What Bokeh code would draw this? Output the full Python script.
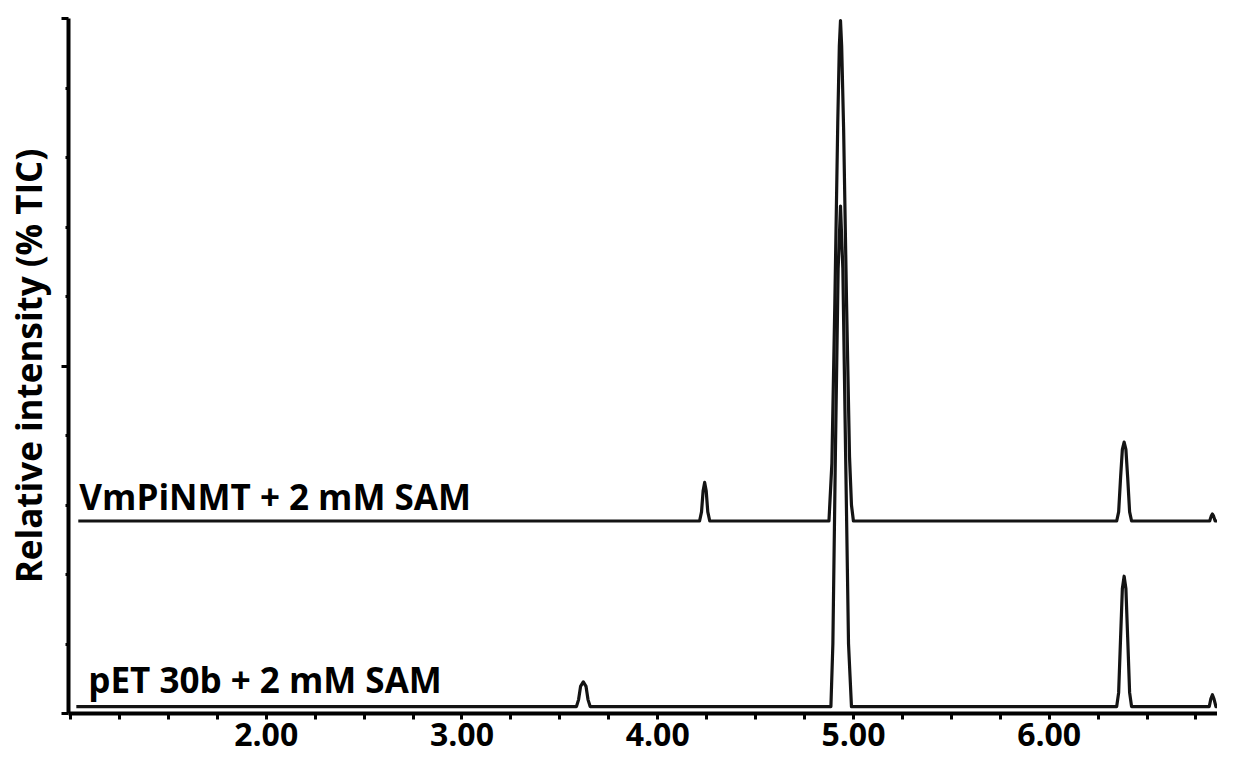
from bokeh.plotting import figure
from bokeh.models import FixedTicker, Range1d
from bokeh.core.properties import value
from bokeh.embed import file_html
from bokeh.resources import INLINE

# ---- data (time in min, % TIC) ----
vm_label = "VmPiNMT + 2 mM SAM"
vm_time = [1.04, 4.214, 4.224, 4.232, 4.24, 4.248, 4.256, 4.266,
           4.875, 4.89, 4.905, 4.92, 4.928, 4.934, 4.94, 4.95, 4.965, 4.98, 4.99, 5.0,
           6.345, 6.355, 6.365, 6.374, 6.383, 6.392, 6.401, 6.411, 6.421,
           6.82, 6.828, 6.834, 6.84, 6.848, 6.93]
vm_int = [55.4, 55.4, 58.0, 64.0, 66.5, 64.0, 58.0, 55.4,
          55.4, 72.0, 118.0, 170.0, 192.0, 199.4, 192.0, 168.0, 118.0, 74.0, 60.0, 55.4,
          55.4, 58.0, 68.0, 76.0, 78.1, 76.0, 68.0, 58.0, 55.4,
          55.4, 56.8, 57.4, 56.8, 55.4, 55.4]

pet_label = "pET 30b + 2 mM SAM"
pet_time = [1.03, 3.585, 3.596, 3.606, 3.62, 3.634, 3.644, 3.655,
            4.885, 4.895, 4.908, 4.922, 4.934, 4.946, 4.96, 4.975, 4.99,
            6.345, 6.355, 6.365, 6.374, 6.383, 6.392, 6.401, 6.411, 6.421,
            6.818, 6.826, 6.834, 6.842, 6.852, 6.93]
pet_int = [2.0, 2.0, 4.0, 7.8, 9.1, 7.8, 4.0, 2.0,
           2.0, 20.0, 75.0, 128.0, 146.0, 128.0, 75.0, 20.0, 2.0,
           2.0, 6.0, 22.0, 36.0, 39.5, 36.0, 22.0, 6.0, 2.0,
           2.0, 4.2, 5.4, 4.2, 2.0, 2.0]

x_major_ticks = [2, 3, 4, 5, 6]
x_tick_labels = ["2.00", "3.00", "4.00", "5.00", "6.00"]
x_minor_ticks = [1.0, 1.25, 1.5, 1.75, 2.25, 2.5, 2.75, 3.25, 3.5, 3.75,
                 4.25, 4.5, 4.75, 5.25, 5.5, 5.75, 6.25, 6.5, 6.75]
y_major_ticks = [0, 100, 200]
y_minor_ticks = [20, 40, 60, 80, 120, 140, 160, 180]
y_title = "Relative intensity (% TIC)"

FONT = "Open Sans"

p = figure(width=1217, height=758, output_backend="svg", toolbar_location=None,
           x_range=Range1d(0.99, 6.86), y_range=Range1d(0, 200),
           min_border_left=68, min_border_right=0, min_border_top=18,
           min_border_bottom=45)
p.outline_line_color = None
p.grid.visible = False
p.background_fill_color = "white"
p.border_fill_color = "white"

# traces
for t, v in ((vm_time, vm_int), (pet_time, pet_int)):
    p.line(x=t, y=v, line_color="#141414", line_width=3.2, line_join="round")

# trace labels (anchored at each trace's starting point)
p.text(x=[vm_time[0]], y=[vm_int[0]], text=[vm_label], text_font=value(FONT),
       text_font_style="bold", text_font_size="35px", text_color="black",
       text_baseline="alphabetic", x_offset=1, y_offset=-24)
p.text(x=[pet_time[0]], y=[pet_int[0]], text=[pet_label], text_font=value(FONT),
       text_font_style="bold", text_font_size="35px", text_color="black",
       text_baseline="alphabetic", x_offset=12, y_offset=-27)

# x axis
xa = p.xaxis[0]
xa.ticker = FixedTicker(ticks=x_major_ticks, minor_ticks=x_minor_ticks)
xa.major_label_overrides = {k: s for k, s in zip(x_major_ticks, x_tick_labels)}
xa.axis_line_width = 4
xa.axis_line_color = "black"
xa.major_tick_in = 0
xa.major_tick_out = 6
xa.minor_tick_in = 0
xa.minor_tick_out = 6
xa.major_tick_line_width = 3
xa.minor_tick_line_width = 3
xa.major_tick_line_color = "black"
xa.minor_tick_line_color = "black"
xa.major_label_standoff = 3
xa.major_label_text_font = FONT
xa.major_label_text_font_style = "bold"
xa.major_label_text_font_size = "32px"
xa.major_label_text_color = "black"

# y axis
ya = p.yaxis[0]
ya.ticker = FixedTicker(ticks=y_major_ticks, minor_ticks=y_minor_ticks)
ya.major_label_overrides = {k: "" for k in y_major_ticks}
ya.axis_line_width = 4
ya.axis_line_color = "black"
ya.major_tick_in = 0
ya.major_tick_out = 7
ya.minor_tick_in = 0
ya.minor_tick_out = 3
ya.major_tick_line_width = 3
ya.minor_tick_line_width = 3
ya.major_tick_line_color = "black"
ya.minor_tick_line_color = "black"
ya.major_label_standoff = 0
ya.axis_label = y_title
ya.axis_label_text_font = FONT
ya.axis_label_text_font_style = "bold"
ya.axis_label_text_font_size = "35px"
ya.axis_label_text_color = "black"
ya.axis_label_standoff = 10

open("out.html", "w").write(file_html(p, INLINE))
